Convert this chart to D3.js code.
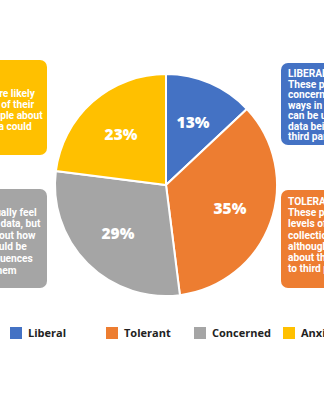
<!DOCTYPE html>
<html>
<head>
<meta charset="utf-8">
<script src="https://cdn.jsdelivr.net/npm/d3@7"></script>
<style>
  html, body { margin: 0; padding: 0; background: #fff; }
  svg { display: block; }
</style>
</head>
<body>
<div id="chart"></div>
<script>
const categories = ['Liberal', 'Tolerant', 'Concerned', 'Anxious'];
const values = [13, 35, 29, 23];

const liberalText = ['LIBERAL', 'These people are not', 'concerned about the', 'ways in which their data',
    'can be used, or about', 'data being shared with', 'third parties.'];
const tolerantText = ['TOLERANT', 'These people have high', 'levels of trust in data', 'collection and use,',
    'although they do worry', 'about their data being', 'to third parties.'];
const concernedText = ['CONCERNED', 'These people usually feel', 'comfortable with data, but', 'are concerned about how',
    'their own data could be', 'used, and consequences', 'that this has on them'];
const anxiousText = ['ANXIOUS', 'These people', 'are worried and are likely', 'to be less certain of their',
    'data, and ask people about', 'how personal data could', 'be used.'];

const colors = { Liberal: '#4472c4', Tolerant: '#ed7d31', Concerned: '#a5a5a5', Anxious: '#ffc000' };

const width = 324;
const height = 400;
const cx = 166, cy = 185, radius = 111;

const svg = d3.select('#chart')
    .append('svg')
    .attr('width', width)
    .attr('height', height);

// side boxes (the page is cropped, so they run off the edges)
const boxes = [
    { key: 'Anxious', lines: anxiousText, x: -84, y: 60, w: 131, h: 95, tx: -80, ty: 75, step: 11 },
    { key: 'Concerned', lines: concernedText, x: -84, y: 189, w: 131, h: 99, tx: -80, ty: 204, step: 11.6 },
    { key: 'Liberal', lines: liberalText, x: 281, y: 63, w: 130, h: 82, tx: 288, ty: 77, step: 10.5 },
    { key: 'Tolerant', lines: tolerantText, x: 281, y: 190, w: 130, h: 98, tx: 288, ty: 205, step: 11.2 },
];

const boxG = svg.append('g').attr('class', 'boxes');
boxes.forEach((b) => {
    boxG.append('rect')
        .attr('x', b.x).attr('y', b.y)
        .attr('width', b.w).attr('height', b.h)
        .attr('rx', 7)
        .attr('fill', colors[b.key]);

    boxG.append('text')
        .attr('font-family', 'Roboto, sans-serif')
        .attr('font-weight', 700)
        .attr('font-size', 10.2)
        .attr('fill', '#fff')
        .selectAll('tspan')
        .data(b.lines)
        .join('tspan')
        .attr('x', b.tx)
        .attr('y', (d, i) => b.ty + i * b.step)
        .text((d) => d);
});

// pie
const pie = d3.pie().sort(null).value((d) => d.value);
const arcs = pie(categories.map((c, i) => ({ name: c, value: values[i] })));

const arc = d3.arc().innerRadius(0).outerRadius(radius);
const labelArc = d3.arc().innerRadius(68).outerRadius(68);

const pieG = svg.append('g').attr('transform', `translate(${cx}, ${cy})`);

pieG.selectAll('path')
    .data(arcs)
    .join('path')
    .attr('d', arc)
    .attr('fill', (d) => colors[d.data.name])
    .attr('stroke', '#fff')
    .attr('stroke-width', 2);

pieG.selectAll('text')
    .data(arcs)
    .join('text')
    .attr('transform', (d) => `translate(${labelArc.centroid(d)})`)
    .attr('text-anchor', 'middle')
    .attr('dy', '0.36em')
    .attr('font-family', '"Open Sans", sans-serif')
    .attr('font-weight', 800)
    .attr('font-size', 15.5)
    .attr('fill', '#fff')
    .text((d) => d.data.value + '%');

// legend
const legendX = [10, 106, 194, 283];
const legend = svg.append('g').attr('class', 'legend');
const items = legend.selectAll('g')
    .data(categories)
    .join('g')
    .attr('transform', (d, i) => `translate(${legendX[i]}, 327)`);

items.append('rect')
    .attr('width', 12)
    .attr('height', 12)
    .attr('fill', (d) => colors[d]);

items.append('text')
    .attr('x', 18)
    .attr('y', 10)
    .attr('font-family', '"Open Sans", sans-serif')
    .attr('font-weight', 700)
    .attr('font-size', 11)
    .attr('fill', '#222')
    .text((d) => d);
</script>
</body>
</html>
